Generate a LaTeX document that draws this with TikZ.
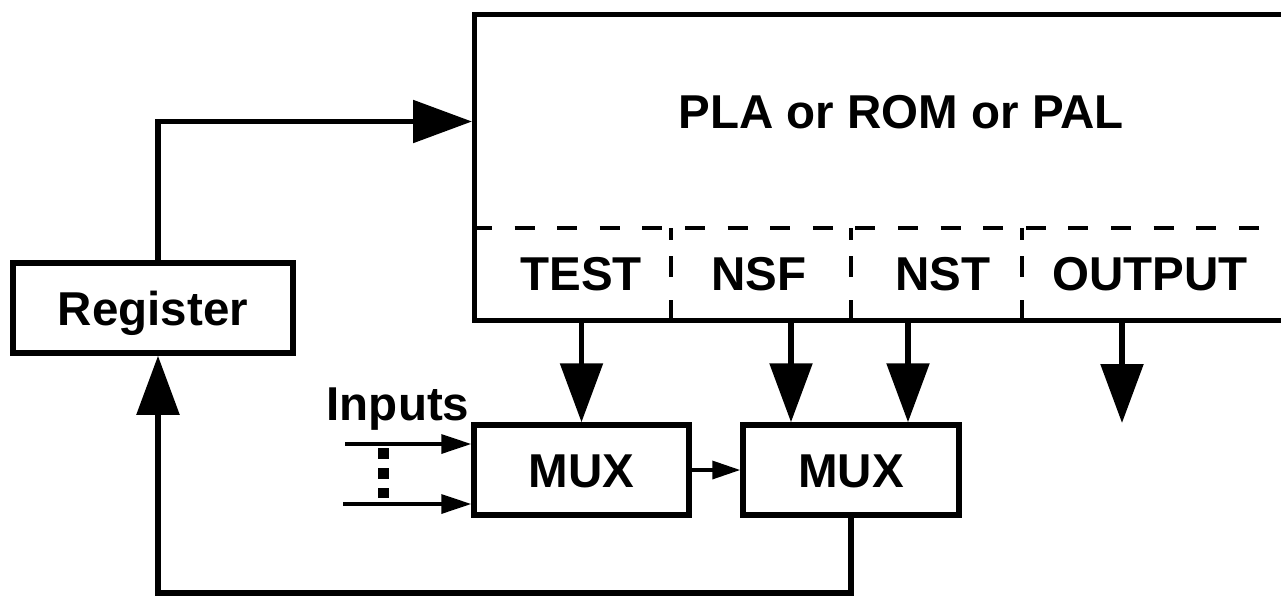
\documentclass[tikz,border=0pt]{standalone}
\usepackage{fontspec}
\setmainfont{Liberation Sans}
\usetikzlibrary{arrows.meta,calc}
\begin{document}
\begin{tikzpicture}[x=1pt,y=-1pt,
  every node/.style={font=\fontsize{47.5}{56}\selectfont\bfseries, inner sep=0pt,
    text height=34pt, text depth=0pt},
  box/.style={draw, line width=5.5pt, minimum height=90pt},
  bigarrow/.style={line width=5.5pt, -{Triangle[length=59pt,width=42pt]}},
  smallarrow/.style={line width=3.5pt, -{Triangle[length=30pt,width=19pt]}},
  divider/.style={line width=4.5pt, dash pattern=on 20pt off 22.6pt},
  fieldsep/.style={line width=4.5pt, dash pattern=on 12pt off 16pt on 21pt off 23pt on 40pt off 0pt},
  dots/.style={line width=11pt, dash pattern=on 10.5pt off 9.5pt}]
  \useasboundingbox (0,0) rectangle (1281,598);
  \clip (0,0) rectangle (1281,598);

  % programmable logic block (open to the right)
  \node[draw, line width=5pt, anchor=north west, minimum width=830pt,
        minimum height=306pt] (pla) at (472,12) {};
  \node (plalabel) at (901,111) {PLA or ROM or PAL};

  % field divider and separators
  \coordinate (divL) at (472,228);
  \coordinate (divR) at (1259,228);
  \draw[divider] (divL) -- (divR);
  \coordinate (s1) at (671,228);
  \coordinate (s2) at (851,228);
  \coordinate (s3) at (1022,228);
  \foreach \s in {s1,s2,s3}
    \draw[fieldsep] (\s) -- (\s |- pla.south);

  % field names
  \node (test)   at (581,273)  {TEST};
  \node (nsf)    at (759,273)  {NSF};
  \node (nst)    at (943,273)  {NST};
  \node (output) at (1150,273) {OUTPUT};

  % blocks
  \node[box, minimum width=280pt] (reg)  at (153,308)   {Register};
  \node[box, minimum width=215pt] (mux1) at (581.5,470) {MUX};
  \node[box, minimum width=216pt] (mux2) at (851,470)   {MUX};
  \node (inputs) at (398,403) {Inputs};

  % field outputs
  \draw[bigarrow] (mux1.north |- pla.south) -- (mux1.north);
  \coordinate (nsfdrop) at ([xshift=-60pt]mux2.north);
  \coordinate (nstdrop) at ([xshift=57pt]mux2.north);
  \draw[bigarrow] (nsfdrop |- pla.south) -- (nsfdrop);
  \draw[bigarrow] (nstdrop |- pla.south) -- (nstdrop);
  \coordinate (outend) at (1122,423);
  \draw[bigarrow] (outend |- pla.south) -- (outend);

  % register to logic block
  \coordinate (regtap) at ([xshift=5pt]reg.north);
  \coordinate (plain) at ([yshift=46pt]pla.west);
  \draw[bigarrow] (regtap) |- (plain);

  % feedback from second multiplexer to register
  \coordinate (regfb) at ([xshift=5pt]reg.south);
  \draw[bigarrow] (mux2.south) -- ++(0,75) -| (regfb);

  % inputs
  \coordinate (in1) at (345,444);
  \coordinate (in2) at (343,504);
  \draw[smallarrow] (in1) -- (in1 -| mux1.west);
  \draw[smallarrow] (in2) -- (in2 -| mux1.west);
  \coordinate (dtop) at (383.5,448);
  \coordinate (dbot) at (383.5,498);
  \draw[dots] (dtop) -- (dbot);

  % chain between multiplexers
  \draw[line width=3.5pt, -{Triangle[length=28pt,width=18pt]}] (mux1.east) -- (mux2.west);
\end{tikzpicture}
\end{document}
